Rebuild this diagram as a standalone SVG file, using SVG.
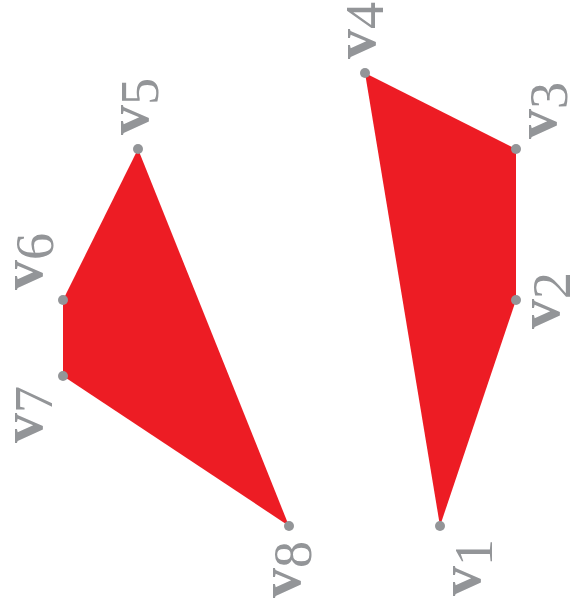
<svg xmlns="http://www.w3.org/2000/svg" width="573" height="613" viewBox="0 0 573 613">
<style>
.poly{fill:#ED1C24;stroke:none}
.dot{fill:#939598}
.lbl{font-family:"Liberation Serif","Times New Roman",serif;fill:#939598}
.v{font-weight:bold;font-size:60px}
.d{font-size:54px}
</style>
<rect width="573" height="613" fill="#fff"/>
<g id="connectors">
<polygon id="polyA" class="poly" points="440,526 516,300 516,149 365,73"/>
<polygon id="polyB" class="poly" points="138,149 63,300 63,376 289,526"/>
</g>
<g id="v1"><circle class="dot" cx="440" cy="526" r="5"/><text class="lbl" transform="translate(480,596) rotate(-90)"><tspan class="v">v</tspan><tspan class="d" dy="12">1</tspan></text></g>
<g id="v2"><circle class="dot" cx="516" cy="300" r="5"/><text class="lbl" transform="translate(559,329) rotate(-90)"><tspan class="v">v</tspan><tspan class="d" dy="11">2</tspan></text></g>
<g id="v3"><circle class="dot" cx="516" cy="149" r="5"/><text class="lbl" transform="translate(556,139) rotate(-90)"><tspan class="v">v</tspan><tspan class="d" dy="11">3</tspan></text></g>
<g id="v4"><circle class="dot" cx="365" cy="73" r="5"/><text class="lbl" transform="translate(375,59) rotate(-90)"><tspan class="v">v</tspan><tspan class="d" dy="8">4</tspan></text></g>
<g id="v5"><circle class="dot" cx="138" cy="149" r="5"/><text class="lbl" transform="translate(148,135) rotate(-90)"><tspan class="v">v</tspan><tspan class="d" dy="10">5</tspan></text></g>
<g id="v6"><circle class="dot" cx="63" cy="300" r="5"/><text class="lbl" transform="translate(42,290) rotate(-90)"><tspan class="v">v</tspan><tspan class="d" dy="11">6</tspan></text></g>
<g id="v7"><circle class="dot" cx="63" cy="376" r="5"/><text class="lbl" transform="translate(42,443) rotate(-90)"><tspan class="v">v</tspan><tspan class="d" dy="10">7</tspan></text></g>
<g id="v8"><circle class="dot" cx="289" cy="526" r="5"/><text class="lbl" transform="translate(300,598) rotate(-90)"><tspan class="v">v</tspan><tspan class="d" dy="11">8</tspan></text></g>
</svg>
